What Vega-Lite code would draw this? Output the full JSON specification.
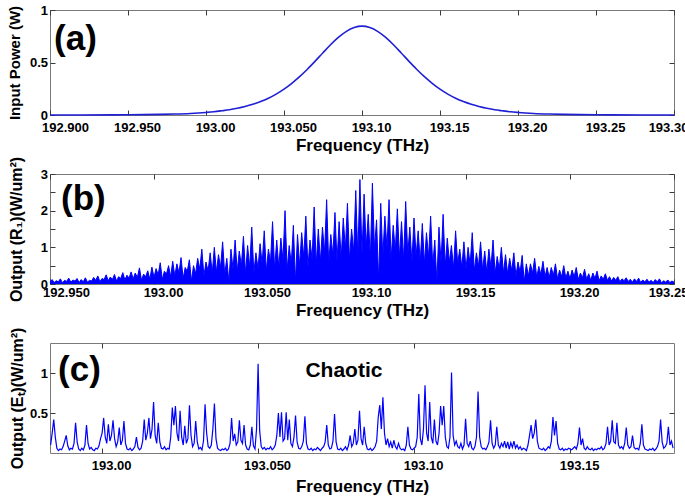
{
"$schema": "https://vega.github.io/schema/vega-lite/v6.json",
"background": "white",
"padding": {"left": 7, "top": 3, "right": 0, "bottom": 0},
"bounds": "flush",
"spacing": 59,
"config": {
 "view": {"stroke": "#7a7a7a", "strokeWidth": 1},
 "axis": {"domain": false, "grid": false, "ticks": true, "tickSize": -5, "tickColor": "#3a3a3a", "tickWidth": 1, "labelFont": "Liberation Sans", "labelFontSize": 13, "labelFontWeight": "bold", "labelColor": "#000", "labelFlush": false, "labelOverlap": false, "titleFont": "Liberation Sans", "titleFontWeight": "bold", "titleColor": "#000"},
 "axisX": {"titleFontSize": 17},
 "axisY": {"titleFontSize": 15}
},
"vconcat": [
{
 "width": 624, "height": 105,
 "layer": [
  {
   "data": {"values": [
{"f":192.90,"p":0.0002},{"f":192.92,"p":0.0005},{"f":192.94,"p":0.0013},{"f":192.95,"p":0.0021},{"f":192.96,"p":0.0035},{"f":192.97,"p":0.0057},{"f":192.98,"p":0.0093},{"f":192.99,"p":0.015},
{"f":193.000,"p":0.0245},{"f":193.005,"p":0.031},{"f":193.010,"p":0.040},{"f":193.015,"p":0.050},{"f":193.020,"p":0.064},{"f":193.025,"p":0.081},{"f":193.030,"p":0.102},{"f":193.035,"p":0.128},{"f":193.040,"p":0.160},{"f":193.045,"p":0.199},{"f":193.050,"p":0.246},{"f":193.055,"p":0.302},{"f":193.060,"p":0.365},{"f":193.065,"p":0.436},{"f":193.070,"p":0.513},{"f":193.075,"p":0.593},{"f":193.080,"p":0.671},{"f":193.085,"p":0.741},{"f":193.090,"p":0.797},{"f":193.095,"p":0.833},{"f":193.100,"p":0.846},
{"f":193.105,"p":0.833},{"f":193.110,"p":0.797},{"f":193.115,"p":0.741},{"f":193.120,"p":0.671},{"f":193.125,"p":0.593},{"f":193.130,"p":0.513},{"f":193.135,"p":0.436},{"f":193.140,"p":0.365},{"f":193.145,"p":0.302},{"f":193.150,"p":0.246},{"f":193.155,"p":0.199},{"f":193.160,"p":0.160},{"f":193.165,"p":0.128},{"f":193.170,"p":0.102},{"f":193.175,"p":0.081},{"f":193.180,"p":0.064},{"f":193.185,"p":0.050},{"f":193.190,"p":0.040},{"f":193.195,"p":0.031},{"f":193.200,"p":0.0245},
{"f":193.21,"p":0.015},{"f":193.22,"p":0.0093},{"f":193.23,"p":0.0057},{"f":193.24,"p":0.0035},{"f":193.25,"p":0.0021},{"f":193.26,"p":0.0013},{"f":193.28,"p":0.0005},{"f":193.30,"p":0.0002}
   ]},
   "mark": {"type": "line", "color": "#1f1fd4", "strokeWidth": 1.6, "interpolate": "monotone"},
   "encoding": {
    "x": {"field": "f", "type": "quantitative", "scale": {"domain": [192.9, 193.3], "nice": false, "zero": false},
      "axis": {"orient": "bottom", "values": [192.9,192.95,193,193.05,193.1,193.15,193.2,193.25,193.3], "labelExpr": "datum.value < 192.925 ? '192.900' : datum.value < 192.975 ? '192.950' : datum.value < 193.025 ? '193.00' : datum.value < 193.075 ? '193.050' : datum.value < 193.125 ? '193.10' : datum.value < 193.175 ? '193.15' : datum.value < 193.225 ? '193.20' : datum.value < 193.275 ? '193.25' : '193.30'", "title": "Frequency (THz)", "labelPadding": 11.5, "labelOffset": {"condition": [{"test": "datum.value < 192.91", "value": 15}, {"test": "datum.value > 193.29", "value": -6}], "value": 9}, "titlePadding": 3}},
    "y": {"field": "p", "type": "quantitative", "scale": {"domain": [0, 1], "nice": false},
      "axis": {"orient": "left", "values": [0, 0.5, 1], "format": "~g", "title": "Input Power (W)", "labelPadding": 7.5, "titlePadding": 6.5}}
   }
  },
  {
   "data": {"values": [{"f": 192.9026, "p": 0.619, "t": "(a)"}]},
   "mark": {"type": "text", "font": "Liberation Sans", "fontSize": 35, "fontWeight": "bold", "align": "left", "baseline": "alphabetic", "color": "#000"},
   "encoding": {
    "x": {"field": "f", "type": "quantitative", "axis": {"orient": "top", "values": [192.9,192.95,193,193.05,193.1,193.15,193.2,193.25,193.3], "labels": false, "title": null}},
    "y": {"field": "p", "type": "quantitative", "axis": {"orient": "right", "values": [0, 0.5, 1], "labels": false, "title": null}},
    "text": {"field": "t"}
   }
  }
 ],
 "resolve": {"axis": {"x": "independent", "y": "independent"}}
},
{
 "width": 624, "height": 110,
 "layer": [
  {
   "data": {"values": [
{"f":192.950,"p":0.05},{"f":192.951,"p":0.12},{"f":192.952,"p":0.04},{"f":192.953,"p":0.09},{"f":192.954,"p":0.06},{"f":192.955,"p":0.14},{"f":192.956,"p":0.03},{"f":192.957,"p":0.10},{"f":192.958,"p":0.07},{"f":192.959,"p":0.16},
{"f":192.960,"p":0.05},{"f":192.961,"p":0.11},{"f":192.962,"p":0.08},{"f":192.963,"p":0.15},{"f":192.964,"p":0.04},{"f":192.965,"p":0.12},{"f":192.966,"p":0.06},{"f":192.967,"p":0.17},{"f":192.968,"p":0.05},{"f":192.969,"p":0.10},
{"f":192.970,"p":0.08},{"f":192.971,"p":0.18},{"f":192.972,"p":0.10},{"f":192.973,"p":0.22},{"f":192.974,"p":0.06},{"f":192.975,"p":0.15},{"f":192.976,"p":0.12},{"f":192.977,"p":0.25},{"f":192.978,"p":0.09},{"f":192.979,"p":0.19},
{"f":192.980,"p":0.12},{"f":192.981,"p":0.26},{"f":192.982,"p":0.08},{"f":192.983,"p":0.20},{"f":192.984,"p":0.15},{"f":192.985,"p":0.31},{"f":192.986,"p":0.11},{"f":192.987,"p":0.24},{"f":192.988,"p":0.16},{"f":192.989,"p":0.33},
{"f":192.990,"p":0.14},{"f":192.991,"p":0.30},{"f":192.992,"p":0.18},{"f":192.993,"p":0.44},{"f":192.994,"p":0.10},{"f":192.995,"p":0.27},{"f":192.996,"p":0.20},{"f":192.997,"p":0.36},{"f":192.998,"p":0.13},{"f":192.999,"p":0.46},
{"f":193.000,"p":0.18},{"f":193.001,"p":0.42},{"f":193.002,"p":0.25},{"f":193.003,"p":0.58},{"f":193.004,"p":0.12},{"f":193.005,"p":0.35},{"f":193.006,"p":0.27},{"f":193.007,"p":0.50},{"f":193.008,"p":0.20},{"f":193.009,"p":0.62},
{"f":193.010,"p":0.22},{"f":193.011,"p":0.55},{"f":193.012,"p":0.30},{"f":193.013,"p":0.72},{"f":193.014,"p":0.15},{"f":193.015,"p":0.45},{"f":193.016,"p":0.35},{"f":193.017,"p":0.66},{"f":193.018,"p":0.08},{"f":193.019,"p":0.50},
{"f":193.020,"p":0.28},{"f":193.021,"p":0.70},{"f":193.022,"p":0.40},{"f":193.023,"p":0.95},{"f":193.024,"p":0.22},{"f":193.025,"p":0.60},{"f":193.026,"p":0.35},{"f":193.027,"p":0.85},{"f":193.028,"p":0.30},{"f":193.029,"p":1.00},
{"f":193.030,"p":0.32},{"f":193.031,"p":0.80},{"f":193.032,"p":0.45},{"f":193.033,"p":1.15},{"f":193.034,"p":0.25},{"f":193.035,"p":0.70},{"f":193.036,"p":0.05},{"f":193.037,"p":0.95},{"f":193.038,"p":0.40},{"f":193.039,"p":1.20},
{"f":193.040,"p":0.35},{"f":193.041,"p":0.90},{"f":193.042,"p":0.50},{"f":193.043,"p":1.30},{"f":193.044,"p":0.28},{"f":193.045,"p":1.05},{"f":193.046,"p":0.45},{"f":193.047,"p":1.55},{"f":193.048,"p":0.30},{"f":193.049,"p":0.85},
{"f":193.050,"p":0.42},{"f":193.051,"p":1.10},{"f":193.052,"p":0.55},{"f":193.053,"p":1.45},{"f":193.054,"p":0.35},{"f":193.055,"p":0.95},{"f":193.056,"p":0.60},{"f":193.057,"p":1.70},{"f":193.058,"p":0.40},{"f":193.059,"p":1.20},
{"f":193.060,"p":0.45},{"f":193.061,"p":1.25},{"f":193.062,"p":0.65},{"f":193.063,"p":2.00},{"f":193.064,"p":0.38},{"f":193.065,"p":1.05},{"f":193.066,"p":0.55},{"f":193.067,"p":1.60},{"f":193.068,"p":0.06},{"f":193.069,"p":1.35},
{"f":193.070,"p":0.50},{"f":193.071,"p":1.40},{"f":193.072,"p":0.72},{"f":193.073,"p":1.85},{"f":193.074,"p":0.45},{"f":193.075,"p":1.20},{"f":193.076,"p":0.68},{"f":193.077,"p":2.10},{"f":193.078,"p":0.52},{"f":193.079,"p":1.50},
{"f":193.080,"p":0.60},{"f":193.081,"p":1.55},{"f":193.082,"p":0.85},{"f":193.083,"p":2.30},{"f":193.084,"p":0.55},{"f":193.085,"p":1.35},{"f":193.086,"p":0.78},{"f":193.087,"p":1.95},{"f":193.088,"p":0.62},{"f":193.089,"p":1.70},
{"f":193.090,"p":0.70},{"f":193.091,"p":1.80},{"f":193.092,"p":0.95},{"f":193.093,"p":2.20},{"f":193.094,"p":0.65},{"f":193.095,"p":1.50},{"f":193.096,"p":0.88},{"f":193.097,"p":2.55},{"f":193.098,"p":0.75},{"f":193.099,"p":2.85},
{"f":193.100,"p":0.80},{"f":193.101,"p":2.45},{"f":193.102,"p":1.00},{"f":193.103,"p":1.90},{"f":193.104,"p":0.70},{"f":193.105,"p":2.75},{"f":193.106,"p":0.95},{"f":193.107,"p":1.75},{"f":193.108,"p":0.08},{"f":193.109,"p":2.20},
{"f":193.110,"p":0.75},{"f":193.111,"p":1.85},{"f":193.112,"p":0.98},{"f":193.113,"p":2.30},{"f":193.114,"p":0.66},{"f":193.115,"p":1.60},{"f":193.116,"p":0.90},{"f":193.117,"p":2.05},{"f":193.118,"p":0.72},{"f":193.119,"p":1.70},
{"f":193.120,"p":0.65},{"f":193.121,"p":2.25},{"f":193.122,"p":0.82},{"f":193.123,"p":1.55},{"f":193.124,"p":0.58},{"f":193.125,"p":1.80},{"f":193.126,"p":0.75},{"f":193.127,"p":1.45},{"f":193.128,"p":0.60},{"f":193.129,"p":1.65},
{"f":193.130,"p":0.55},{"f":193.131,"p":1.40},{"f":193.132,"p":0.72},{"f":193.133,"p":1.85},{"f":193.134,"p":0.50},{"f":193.135,"p":1.20},{"f":193.136,"p":0.05},{"f":193.137,"p":1.55},{"f":193.138,"p":0.58},{"f":193.139,"p":1.90},
{"f":193.140,"p":0.48},{"f":193.141,"p":1.25},{"f":193.142,"p":0.60},{"f":193.143,"p":1.05},{"f":193.144,"p":0.42},{"f":193.145,"p":1.45},{"f":193.146,"p":0.55},{"f":193.147,"p":0.95},{"f":193.148,"p":0.45},{"f":193.149,"p":1.15},
{"f":193.150,"p":0.40},{"f":193.151,"p":1.00},{"f":193.152,"p":0.52},{"f":193.153,"p":1.40},{"f":193.154,"p":0.35},{"f":193.155,"p":0.85},{"f":193.156,"p":0.48},{"f":193.157,"p":1.15},{"f":193.158,"p":0.38},{"f":193.159,"p":0.90},
{"f":193.160,"p":0.32},{"f":193.161,"p":0.95},{"f":193.162,"p":0.45},{"f":193.163,"p":1.20},{"f":193.164,"p":0.28},{"f":193.165,"p":0.75},{"f":193.166,"p":0.40},{"f":193.167,"p":1.00},{"f":193.168,"p":0.30},{"f":193.169,"p":0.80},
{"f":193.170,"p":0.28},{"f":193.171,"p":0.70},{"f":193.172,"p":0.36},{"f":193.173,"p":0.85},{"f":193.174,"p":0.22},{"f":193.175,"p":0.60},{"f":193.176,"p":0.32},{"f":193.177,"p":0.78},{"f":193.178,"p":0.06},{"f":193.179,"p":0.55},
{"f":193.180,"p":0.22},{"f":193.181,"p":0.55},{"f":193.182,"p":0.30},{"f":193.183,"p":0.70},{"f":193.184,"p":0.18},{"f":193.185,"p":0.48},{"f":193.186,"p":0.26},{"f":193.187,"p":0.62},{"f":193.188,"p":0.20},{"f":193.189,"p":0.45},
{"f":193.190,"p":0.18},{"f":193.191,"p":0.45},{"f":193.192,"p":0.24},{"f":193.193,"p":0.55},{"f":193.194,"p":0.14},{"f":193.195,"p":0.38},{"f":193.196,"p":0.20},{"f":193.197,"p":0.50},{"f":193.198,"p":0.16},{"f":193.199,"p":0.35},
{"f":193.200,"p":0.14},{"f":193.201,"p":0.38},{"f":193.202,"p":0.20},{"f":193.203,"p":0.45},{"f":193.204,"p":0.12},{"f":193.205,"p":0.30},{"f":193.206,"p":0.17},{"f":193.207,"p":0.40},{"f":193.208,"p":0.13},{"f":193.209,"p":0.28},
{"f":193.210,"p":0.10},{"f":193.211,"p":0.30},{"f":193.212,"p":0.15},{"f":193.213,"p":0.35},{"f":193.214,"p":0.09},{"f":193.215,"p":0.22},{"f":193.216,"p":0.13},{"f":193.217,"p":0.28},{"f":193.218,"p":0.10},{"f":193.219,"p":0.20},
{"f":193.220,"p":0.08},{"f":193.221,"p":0.18},{"f":193.222,"p":0.10},{"f":193.223,"p":0.20},{"f":193.224,"p":0.06},{"f":193.225,"p":0.14},{"f":193.226,"p":0.09},{"f":193.227,"p":0.17},{"f":193.228,"p":0.07},{"f":193.229,"p":0.13},
{"f":193.230,"p":0.05},{"f":193.231,"p":0.14},{"f":193.232,"p":0.07},{"f":193.233,"p":0.16},{"f":193.234,"p":0.04},{"f":193.235,"p":0.11},{"f":193.236,"p":0.06},{"f":193.237,"p":0.13},{"f":193.238,"p":0.05},{"f":193.239,"p":0.10},
{"f":193.240,"p":0.04},{"f":193.241,"p":0.12},{"f":193.242,"p":0.06},{"f":193.243,"p":0.14},{"f":193.244,"p":0.03},{"f":193.245,"p":0.09},{"f":193.246,"p":0.05},{"f":193.247,"p":0.11},{"f":193.248,"p":0.04},{"f":193.249,"p":0.08},
{"f":193.250,"p":0.05}
   ]},
   "mark": {"type": "area", "color": "#0000ff", "opacity": 1, "line": {"color": "#0000ff", "strokeWidth": 1}},
   "encoding": {
    "x": {"field": "f", "type": "quantitative", "scale": {"domain": [192.95, 193.25], "nice": false, "zero": false},
      "axis": {"orient": "bottom", "values": [192.95,193,193.05,193.1,193.15,193.2,193.25], "labelExpr": "datum.value < 192.925 ? '192.900' : datum.value < 192.975 ? '192.950' : datum.value < 193.025 ? '193.00' : datum.value < 193.075 ? '193.050' : datum.value < 193.125 ? '193.10' : datum.value < 193.175 ? '193.15' : datum.value < 193.225 ? '193.20' : datum.value < 193.275 ? '193.25' : '193.30'", "title": "Frequency (THz)", "labelPadding": 7.5, "labelOffset": {"condition": [{"test": "datum.value < 192.96", "value": 16}, {"test": "datum.value > 193.24", "value": -6}], "value": 9}, "titlePadding": 3}},
    "y": {"field": "p", "type": "quantitative", "scale": {"domain": [0, 3], "nice": false},
      "axis": {"orient": "left", "values": [0, 0.5, 1, 1.5, 2, 2.5, 3], "labelExpr": "datum.value % 1 == 0 ? format(datum.value, '~g') : ''", "title": "Output (R₁)(W/um²)", "titleFontSize": 16, "labelPadding": 7.5, "titlePadding": 16}}
   }
  },
  {
   "data": {"values": [{"f": 192.9553, "p": 2.02, "t": "(b)"}]},
   "mark": {"type": "text", "font": "Liberation Sans", "fontSize": 35, "fontWeight": "bold", "align": "left", "baseline": "alphabetic", "color": "#000"},
   "encoding": {
    "x": {"field": "f", "type": "quantitative", "axis": {"orient": "top", "values": [192.95,193,193.05,193.1,193.15,193.2,193.25], "labels": false, "title": null}},
    "y": {"field": "p", "type": "quantitative", "axis": {"orient": "right", "values": [0, 0.5, 1, 1.5, 2, 2.5, 3], "labels": false, "title": null}},
    "text": {"field": "t"}
   }
  }
 ],
 "resolve": {"axis": {"x": "independent", "y": "independent"}}
},
{
 "width": 624, "height": 110,
 "layer": [
  {
   "data": {"values": [
{"f":192.9835,"p":0.10},{"f":192.9840,"p":0.25},{"f":192.9845,"p":0.42},{"f":192.9850,"p":0.20},{"f":192.9855,"p":0.06},{"f":192.9860,"p":0.03},{"f":192.9865,"p":0.05},{"f":192.9870,"p":0.04},{"f":192.9875,"p":0.08},{"f":192.9880,"p":0.15},{"f":192.9885,"p":0.22},
{"f":192.9890,"p":0.09},{"f":192.9895,"p":0.04},{"f":192.9900,"p":0.06},{"f":192.9905,"p":0.05},{"f":192.9910,"p":0.12},{"f":192.9915,"p":0.38},{"f":192.9920,"p":0.14},{"f":192.9925,"p":0.05},{"f":192.9930,"p":0.03},{"f":192.9935,"p":0.06},{"f":192.9940,"p":0.04},
{"f":192.9945,"p":0.10},{"f":192.9950,"p":0.35},{"f":192.9955,"p":0.12},{"f":192.9960,"p":0.05},{"f":192.9965,"p":0.07},{"f":192.9970,"p":0.04},{"f":192.9975,"p":0.03},{"f":192.9980,"p":0.06},{"f":192.9985,"p":0.05},{"f":192.9990,"p":0.09},{"f":192.9995,"p":0.18},
{"f":193.0000,"p":0.25},{"f":193.0005,"p":0.44},{"f":193.0010,"p":0.20},{"f":193.0015,"p":0.12},{"f":193.0020,"p":0.36},{"f":193.0025,"p":0.15},{"f":193.0030,"p":0.22},{"f":193.0035,"p":0.41},{"f":193.0040,"p":0.18},{"f":193.0045,"p":0.08},
{"f":193.0050,"p":0.14},{"f":193.0055,"p":0.32},{"f":193.0060,"p":0.10},{"f":193.0065,"p":0.16},{"f":193.0070,"p":0.40},{"f":193.0075,"p":0.12},{"f":193.0080,"p":0.05},{"f":193.0085,"p":0.04},{"f":193.0090,"p":0.06},{"f":193.0095,"p":0.03},
{"f":193.0100,"p":0.05},{"f":193.0105,"p":0.08},{"f":193.0110,"p":0.20},{"f":193.0115,"p":0.07},{"f":193.0120,"p":0.04},{"f":193.0125,"p":0.06},{"f":193.0130,"p":0.15},{"f":193.0135,"p":0.42},{"f":193.0140,"p":0.16},{"f":193.0145,"p":0.25},
{"f":193.0150,"p":0.44},{"f":193.0155,"p":0.18},{"f":193.0160,"p":0.30},{"f":193.0165,"p":0.64},{"f":193.0170,"p":0.22},{"f":193.0175,"p":0.12},{"f":193.0180,"p":0.38},{"f":193.0185,"p":0.14},{"f":193.0190,"p":0.06},{"f":193.0195,"p":0.05},
{"f":193.0200,"p":0.08},{"f":193.0205,"p":0.04},{"f":193.0210,"p":0.06},{"f":193.0215,"p":0.05},{"f":193.0220,"p":0.20},{"f":193.0225,"p":0.57},{"f":193.0230,"p":0.35},{"f":193.0235,"p":0.59},{"f":193.0240,"p":0.25},{"f":193.0245,"p":0.15},
{"f":193.0250,"p":0.53},{"f":193.0255,"p":0.20},{"f":193.0260,"p":0.10},{"f":193.0265,"p":0.34},{"f":193.0270,"p":0.12},{"f":193.0275,"p":0.18},{"f":193.0280,"p":0.60},{"f":193.0285,"p":0.22},{"f":193.0290,"p":0.08},{"f":193.0295,"p":0.12},
{"f":193.0300,"p":0.40},{"f":193.0305,"p":0.14},{"f":193.0310,"p":0.05},{"f":193.0315,"p":0.07},{"f":193.0320,"p":0.04},{"f":193.0325,"p":0.15},{"f":193.0330,"p":0.61},{"f":193.0335,"p":0.25},{"f":193.0340,"p":0.08},{"f":193.0345,"p":0.06},
{"f":193.0350,"p":0.10},{"f":193.0355,"p":0.30},{"f":193.0360,"p":0.62},{"f":193.0365,"p":0.18},{"f":193.0370,"p":0.06},{"f":193.0375,"p":0.04},{"f":193.0380,"p":0.03},{"f":193.0385,"p":0.05},{"f":193.0390,"p":0.04},{"f":193.0395,"p":0.06},
{"f":193.0400,"p":0.03},{"f":193.0405,"p":0.05},{"f":193.0410,"p":0.12},{"f":193.0415,"p":0.44},{"f":193.0420,"p":0.15},{"f":193.0425,"p":0.24},{"f":193.0430,"p":0.10},{"f":193.0435,"p":0.14},{"f":193.0440,"p":0.41},{"f":193.0445,"p":0.16},
{"f":193.0450,"p":0.12},{"f":193.0455,"p":0.35},{"f":193.0460,"p":0.10},{"f":193.0465,"p":0.05},{"f":193.0470,"p":0.04},{"f":193.0475,"p":0.10},{"f":193.0480,"p":0.33},{"f":193.0485,"p":0.09},{"f":193.0490,"p":0.05},{"f":193.0495,"p":0.30},
{"f":193.0500,"p":1.12},{"f":193.0505,"p":0.28},{"f":193.0510,"p":0.08},{"f":193.0515,"p":0.05},{"f":193.0520,"p":0.07},{"f":193.0525,"p":0.04},{"f":193.0530,"p":0.06},{"f":193.0535,"p":0.05},{"f":193.0540,"p":0.08},{"f":193.0545,"p":0.04},
{"f":193.0550,"p":0.06},{"f":193.0555,"p":0.10},{"f":193.0560,"p":0.22},{"f":193.0565,"p":0.50},{"f":193.0570,"p":0.20},{"f":193.0575,"p":0.51},{"f":193.0580,"p":0.15},{"f":193.0585,"p":0.18},{"f":193.0590,"p":0.51},{"f":193.0595,"p":0.16},
{"f":193.0600,"p":0.42},{"f":193.0605,"p":0.12},{"f":193.0610,"p":0.08},{"f":193.0615,"p":0.20},{"f":193.0620,"p":0.47},{"f":193.0625,"p":0.14},{"f":193.0630,"p":0.06},{"f":193.0635,"p":0.05},{"f":193.0640,"p":0.08},{"f":193.0645,"p":0.15},
{"f":193.0650,"p":0.46},{"f":193.0655,"p":0.12},{"f":193.0660,"p":0.05},{"f":193.0665,"p":0.04},{"f":193.0670,"p":0.06},{"f":193.0675,"p":0.03},{"f":193.0680,"p":0.05},{"f":193.0685,"p":0.04},{"f":193.0690,"p":0.07},{"f":193.0695,"p":0.05},
{"f":193.0700,"p":0.03},{"f":193.0705,"p":0.06},{"f":193.0710,"p":0.08},{"f":193.0715,"p":0.14},{"f":193.0720,"p":0.35},{"f":193.0725,"p":0.10},{"f":193.0730,"p":0.05},{"f":193.0735,"p":0.06},{"f":193.0740,"p":0.15},{"f":193.0745,"p":0.49},
{"f":193.0750,"p":0.14},{"f":193.0755,"p":0.05},{"f":193.0760,"p":0.04},{"f":193.0765,"p":0.06},{"f":193.0770,"p":0.03},{"f":193.0775,"p":0.05},{"f":193.0780,"p":0.08},{"f":193.0785,"p":0.04},{"f":193.0790,"p":0.10},{"f":193.0795,"p":0.22},
{"f":193.0800,"p":0.08},{"f":193.0805,"p":0.12},{"f":193.0810,"p":0.30},{"f":193.0815,"p":0.10},{"f":193.0820,"p":0.16},{"f":193.0825,"p":0.53},{"f":193.0830,"p":0.18},{"f":193.0835,"p":0.10},{"f":193.0840,"p":0.33},{"f":193.0845,"p":0.12},
{"f":193.0850,"p":0.05},{"f":193.0855,"p":0.04},{"f":193.0860,"p":0.06},{"f":193.0865,"p":0.03},{"f":193.0870,"p":0.05},{"f":193.0875,"p":0.08},{"f":193.0880,"p":0.15},{"f":193.0885,"p":0.45},{"f":193.0890,"p":0.60},{"f":193.0895,"p":0.30},
{"f":193.0900,"p":0.70},{"f":193.0905,"p":0.25},{"f":193.0910,"p":0.10},{"f":193.0915,"p":0.18},{"f":193.0920,"p":0.08},{"f":193.0925,"p":0.14},{"f":193.0930,"p":0.06},{"f":193.0935,"p":0.16},{"f":193.0940,"p":0.08},{"f":193.0945,"p":0.05},
{"f":193.0950,"p":0.12},{"f":193.0955,"p":0.06},{"f":193.0960,"p":0.04},{"f":193.0965,"p":0.05},{"f":193.0970,"p":0.03},{"f":193.0975,"p":0.10},{"f":193.0980,"p":0.33},{"f":193.0985,"p":0.10},{"f":193.0990,"p":0.05},{"f":193.0995,"p":0.04},
{"f":193.1000,"p":0.06},{"f":193.1005,"p":0.08},{"f":193.1010,"p":0.20},{"f":193.1015,"p":0.74},{"f":193.1020,"p":0.18},{"f":193.1025,"p":0.10},{"f":193.1030,"p":0.30},{"f":193.1035,"p":0.85},{"f":193.1040,"p":0.25},{"f":193.1045,"p":0.15},
{"f":193.1050,"p":0.64},{"f":193.1055,"p":0.20},{"f":193.1060,"p":0.12},{"f":193.1065,"p":0.42},{"f":193.1070,"p":0.15},{"f":193.1075,"p":0.10},{"f":193.1080,"p":0.25},{"f":193.1085,"p":0.59},{"f":193.1090,"p":0.35},{"f":193.1095,"p":0.59},
{"f":193.1100,"p":0.20},{"f":193.1105,"p":0.08},{"f":193.1110,"p":0.06},{"f":193.1115,"p":0.20},{"f":193.1120,"p":1.01},{"f":193.1125,"p":0.22},{"f":193.1130,"p":0.10},{"f":193.1135,"p":0.15},{"f":193.1140,"p":0.08},{"f":193.1145,"p":0.06},
{"f":193.1150,"p":0.12},{"f":193.1155,"p":0.05},{"f":193.1160,"p":0.10},{"f":193.1165,"p":0.43},{"f":193.1170,"p":0.12},{"f":193.1175,"p":0.08},{"f":193.1180,"p":0.15},{"f":193.1185,"p":0.06},{"f":193.1190,"p":0.04},{"f":193.1195,"p":0.08},
{"f":193.1200,"p":0.20},{"f":193.1205,"p":0.77},{"f":193.1210,"p":0.20},{"f":193.1215,"p":0.08},{"f":193.1220,"p":0.05},{"f":193.1225,"p":0.06},{"f":193.1230,"p":0.04},{"f":193.1235,"p":0.08},{"f":193.1240,"p":0.14},{"f":193.1245,"p":0.41},
{"f":193.1250,"p":0.12},{"f":193.1255,"p":0.06},{"f":193.1260,"p":0.10},{"f":193.1265,"p":0.33},{"f":193.1270,"p":0.10},{"f":193.1275,"p":0.06},{"f":193.1280,"p":0.12},{"f":193.1285,"p":0.08},{"f":193.1290,"p":0.15},{"f":193.1295,"p":0.06},
{"f":193.1300,"p":0.14},{"f":193.1305,"p":0.05},{"f":193.1310,"p":0.13},{"f":193.1315,"p":0.07},{"f":193.1320,"p":0.15},{"f":193.1325,"p":0.06},{"f":193.1330,"p":0.10},{"f":193.1335,"p":0.05},{"f":193.1340,"p":0.08},{"f":193.1345,"p":0.04},
{"f":193.1350,"p":0.06},{"f":193.1355,"p":0.05},{"f":193.1360,"p":0.03},{"f":193.1365,"p":0.10},{"f":193.1370,"p":0.22},{"f":193.1375,"p":0.35},{"f":193.1380,"p":0.18},{"f":193.1385,"p":0.25},{"f":193.1390,"p":0.42},{"f":193.1395,"p":0.15},
{"f":193.1400,"p":0.06},{"f":193.1405,"p":0.05},{"f":193.1410,"p":0.04},{"f":193.1415,"p":0.06},{"f":193.1420,"p":0.03},{"f":193.1425,"p":0.05},{"f":193.1430,"p":0.08},{"f":193.1435,"p":0.06},{"f":193.1440,"p":0.15},{"f":193.1445,"p":0.45},
{"f":193.1450,"p":0.22},{"f":193.1455,"p":0.40},{"f":193.1460,"p":0.12},{"f":193.1465,"p":0.05},{"f":193.1470,"p":0.04},{"f":193.1475,"p":0.06},{"f":193.1480,"p":0.03},{"f":193.1485,"p":0.05},{"f":193.1490,"p":0.04},{"f":193.1495,"p":0.06},
{"f":193.1500,"p":0.05},{"f":193.1505,"p":0.04},{"f":193.1510,"p":0.06},{"f":193.1515,"p":0.08},{"f":193.1520,"p":0.05},{"f":193.1525,"p":0.12},{"f":193.1530,"p":0.32},{"f":193.1535,"p":0.10},{"f":193.1540,"p":0.18},{"f":193.1545,"p":0.06},
{"f":193.1550,"p":0.04},{"f":193.1555,"p":0.08},{"f":193.1560,"p":0.05},{"f":193.1565,"p":0.04},{"f":193.1570,"p":0.06},{"f":193.1575,"p":0.03},{"f":193.1580,"p":0.05},{"f":193.1585,"p":0.04},{"f":193.1590,"p":0.06},{"f":193.1595,"p":0.05},
{"f":193.1600,"p":0.08},{"f":193.1605,"p":0.04},{"f":193.1610,"p":0.06},{"f":193.1615,"p":0.12},{"f":193.1620,"p":0.33},{"f":193.1625,"p":0.10},{"f":193.1630,"p":0.15},{"f":193.1635,"p":0.41},{"f":193.1640,"p":0.14},{"f":193.1645,"p":0.12},
{"f":193.1650,"p":0.38},{"f":193.1655,"p":0.10},{"f":193.1660,"p":0.06},{"f":193.1665,"p":0.08},{"f":193.1670,"p":0.05},{"f":193.1675,"p":0.12},{"f":193.1680,"p":0.32},{"f":193.1685,"p":0.10},{"f":193.1690,"p":0.06},{"f":193.1695,"p":0.08},
{"f":193.1700,"p":0.22},{"f":193.1705,"p":0.07},{"f":193.1710,"p":0.05},{"f":193.1715,"p":0.06},{"f":193.1720,"p":0.04},{"f":193.1725,"p":0.12},{"f":193.1730,"p":0.36},{"f":193.1735,"p":0.10},{"f":193.1740,"p":0.05},{"f":193.1745,"p":0.04},
{"f":193.1750,"p":0.03},{"f":193.1755,"p":0.05},{"f":193.1760,"p":0.04},{"f":193.1765,"p":0.06},{"f":193.1770,"p":0.03},{"f":193.1775,"p":0.05},{"f":193.1780,"p":0.08},{"f":193.1785,"p":0.15},{"f":193.1790,"p":0.42},{"f":193.1795,"p":0.14},
{"f":193.1800,"p":0.06},{"f":193.1805,"p":0.08},{"f":193.1810,"p":0.12},{"f":193.1815,"p":0.33},{"f":193.1820,"p":0.10},{"f":193.1825,"p":0.15},{"f":193.1830,"p":0.06}
   ]},
   "mark": {"type": "line", "color": "#0000ff", "strokeWidth": 1.2},
   "encoding": {
    "x": {"field": "f", "type": "quantitative", "scale": {"domain": [192.9833, 193.1833], "nice": false, "zero": false},
      "axis": {"orient": "bottom", "values": [193,193.05,193.1,193.15], "labelExpr": "datum.value < 192.925 ? '192.900' : datum.value < 192.975 ? '192.950' : datum.value < 193.025 ? '193.00' : datum.value < 193.075 ? '193.050' : datum.value < 193.125 ? '193.10' : datum.value < 193.175 ? '193.15' : datum.value < 193.225 ? '193.20' : datum.value < 193.275 ? '193.25' : '193.30'", "title": "Frequency (THz)", "labelPadding": 11.5, "labelOffset": 9, "titlePadding": 6}},
    "y": {"field": "p", "type": "quantitative", "scale": {"domain": [0, 1.38], "nice": false},
      "axis": {"orient": "left", "values": [0.5, 1], "format": "~g", "title": "Output (Eₜ)(W/um²)", "titleFontSize": 16, "labelPadding": 7.5, "titlePadding": 3.5}}
   }
  },
  {
   "data": {"values": [{"f": 192.9859, "p": 0.903, "t": "(c)"}]},
   "mark": {"type": "text", "font": "Liberation Sans", "fontSize": 35, "fontWeight": "bold", "align": "left", "baseline": "alphabetic", "color": "#000"},
   "encoding": {
    "x": {"field": "f", "type": "quantitative", "axis": {"orient": "top", "values": [193,193.05,193.1,193.15], "labels": false, "title": null}},
    "y": {"field": "p", "type": "quantitative", "axis": {"orient": "right", "values": [0.5, 1], "labels": false, "title": null}},
    "text": {"field": "t"}
   }
  },
  {
   "data": {"values": [{"f": 193.0775, "p": 0.957, "t": "Chaotic"}]},
   "mark": {"type": "text", "font": "Liberation Sans", "fontSize": 21, "fontWeight": "bold", "align": "center", "baseline": "alphabetic", "color": "#000"},
   "encoding": {
    "x": {"field": "f", "type": "quantitative", "axis": null},
    "y": {"field": "p", "type": "quantitative", "axis": null},
    "text": {"field": "t"}
   }
  }
 ],
 "resolve": {"axis": {"x": "independent", "y": "independent"}}
}
]
}
